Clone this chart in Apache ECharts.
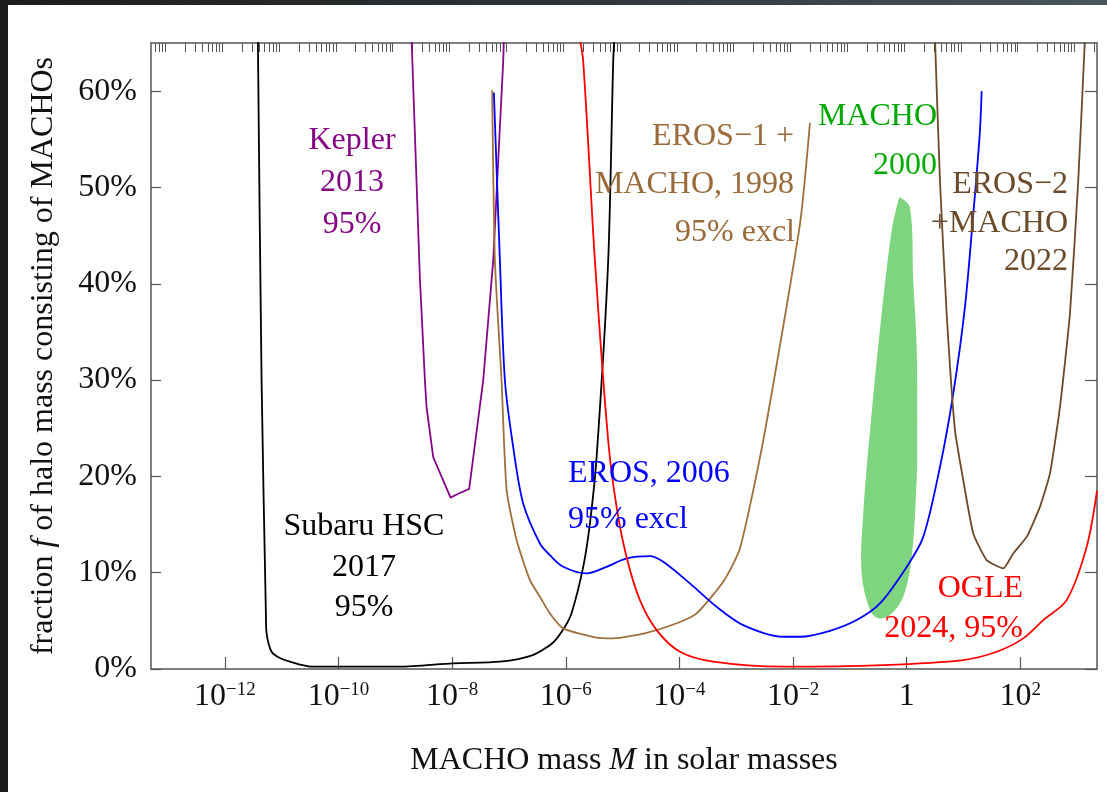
<!DOCTYPE html>
<html>
<head>
<meta charset="utf-8">
<title>MACHO limits</title>
<script src="https://cdn.jsdelivr.net/npm/echarts@6/dist/echarts.min.js"></script>
<style>
  html, body { margin: 0; padding: 0; width: 1107px; height: 792px; overflow: hidden; }
  body { background: linear-gradient(90deg, #1c1c1c 0%, #2e3336 50%, #4a5659 100%); position: relative; }
  #paper { position: absolute; left: 8px; top: 5px; right: 0; bottom: 0; background: #fff; }
  #chart { position: absolute; left: 0; top: 0; width: 1107px; height: 792px; }
</style>
</head>
<body>
<div id="paper"></div>
<div id="chart"></div>
<script>
// x values are log10 of the mass in solar masses, y values are percent
const xMin = -13.3
const xMax = 3.35
const xLabelTicks = [-12, -10, -8, -6, -4, -2, 0, 2]
const yTicks = [0, 10, 20, 30, 40, 50, 60]

const subaruX = [-11.42, -11.354, -11.278, -11.266, -11.178, -11.032, -10.856, -10.504, -9.395, -8.92, -7.987, -7.159, -6.58, -6.226, -6.015, -5.897, -5.693, -5.575, -5.457, -5.253, -5.165, -5.14]
const subaruY = [66, 29.96, 5.81, 3.73, 1.79, 1.14, 0.76, 0.26, 0.24, 0.24, 0.59, 0.76, 1.45, 2.73, 4.39, 5.81, 10.6, 15.1, 22.0, 42.4, 63.1, 66]

const keplerX = [-8.714, -8.567, -8.479, -8.45, -8.333, -8.027, -7.893, -7.7, -7.453, -7.277, -7.101, -7.089]
const keplerY = [65.5, 40.5, 29.96, 27.2, 22.0, 17.8, 18.2, 18.7, 29.96, 42.4, 63.1, 65.5]

const eros1X = [-7.295, -7.247, -7.13, -7.041, -6.865, -6.631, -6.455, -6.279, -6.045, -5.487, -5.165, -4.577, -4.021, -3.697, -3.229, -2.935, -2.525, -1.878, -1.702]
const eros1Y = [60.1, 42.4, 29.96, 18.6, 13.4, 9.23, 7.5, 5.77, 4.22, 3.29, 3.18, 3.76, 4.8, 5.77, 9.05, 12.5, 23.7, 46.2, 56.7]

const erosX = [-7.265, -7.159, -7.071, -6.925, -6.749, -6.455, -6.279, -6.045, -5.633, -5.281, -4.929, -4.519, -4.285, -3.815, -3.345, -2.877, -2.173, -1.878, -1.35, -0.88, -0.47, 0.0, 0.292, 0.586, 0.82, 1.026, 1.172, 1.232, 1.29, 1.32]
const erosY = [59.85, 42.4, 29.96, 23.05, 17.18, 13.03, 11.82, 10.61, 9.92, 10.61, 11.48, 11.72, 11.13, 8.89, 6.46, 4.56, 3.35, 3.35, 3.97, 5.08, 6.81, 10.6, 13.72, 20.97, 28.6, 37.6, 47.2, 51.4, 55.9, 60.0]

const ogleX = [-5.77, -5.693, -5.487, -5.253, -5.105, -4.929, -4.695, -4.401, -3.99, -3.405, -2.173, -0.412, 0.996, 1.584, 2.052, 2.404, 2.816, 3.168, 3.35]
const ogleY = [66, 63.1, 42.4, 23.7, 16.8, 11.6, 7.15, 4.04, 1.79, 0.76, 0.24, 0.41, 0.93, 1.79, 3.18, 5.08, 7.15, 12.68, 18.5]

const eros2X = [0.498, 0.586, 0.704, 0.85, 0.996, 1.172, 1.408, 1.70, 1.876, 2.112, 2.346, 2.522, 2.698, 2.874, 3.02, 3.138]
const eros2Y = [65.5, 50.7, 36.9, 24.8, 19.6, 14.07, 11.3, 10.44, 12.0, 13.72, 16.83, 20.29, 27.2, 36.9, 50.7, 65.5]

// outline of the MACHO 2000 detection region
const machoX = [-0.118, 0.058, 0.116, 0.176, 0.186, 0.176, 0.088, -0.06, -0.294, -0.5, -0.646, -0.792, -0.764, -0.617, -0.44, -0.264, -0.148]
const machoY = [48.97, 47.93, 40.33, 33.42, 23.74, 19.6, 11.64, 7.5, 5.6, 5.26, 6.12, 9.92, 16.14, 26.51, 36.88, 45.52, 48.63]

const FONT = '"Liberation Serif", "DejaVu Serif", serif'
const AXIS_COLOR = '#555'

const zip = (xs, ys) => xs.map((x, i) => [x, ys[i]])

const minorTicks = []
for (let n = -14; n <= 3; n++) {
  for (let k = 2; k <= 9; k++) {
    const v = n + Math.log10(k)
    if (v > xMin && v < xMax) minorTicks.push(v)
  }
}

const lineSeries = (name, xs, ys, color, smooth) => ({
  name,
  type: 'line',
  data: zip(xs, ys),
  showSymbol: false,
  smooth,
  clip: true,
  lineStyle: { color, width: 1.8 },
  itemStyle: { color },
  z: 3
})

const machoPoints = zip(machoX, machoY)

const annotations = [
  { text: 'Kepler', x: 352, y: 141, align: 'center', color: '#860786' },
  { text: '2013', x: 352, y: 183, align: 'center', color: '#860786' },
  { text: '95%', x: 352, y: 225, align: 'center', color: '#860786' },
  { text: 'Subaru HSC', x: 364, y: 527, align: 'center', color: '#000' },
  { text: '2017', x: 364, y: 568, align: 'center', color: '#000' },
  { text: '95%', x: 364, y: 608, align: 'center', color: '#000' },
  { text: 'EROS−1 +', x: 794, y: 137, align: 'right', color: '#9a6a3a' },
  { text: 'MACHO, 1998', x: 794, y: 185, align: 'right', color: '#9a6a3a' },
  { text: '95% excl', x: 795, y: 233, align: 'right', color: '#9a6a3a' },
  { text: 'MACHO', x: 937, y: 117, align: 'right', color: '#00a800' },
  { text: '2000', x: 937, y: 166, align: 'right', color: '#00a800' },
  { text: 'EROS−2', x: 1068, y: 185, align: 'right', color: '#6b4a2a' },
  { text: '+MACHO', x: 1068, y: 224, align: 'right', color: '#6b4a2a' },
  { text: '2022', x: 1068, y: 262, align: 'right', color: '#6b4a2a' },
  { text: 'EROS, 2006', x: 568, y: 474, align: 'left', color: '#0000ff' },
  { text: '95% excl', x: 568, y: 520, align: 'left', color: '#0000ff' },
  { text: 'OGLE', x: 1023, y: 589, align: 'right', color: '#ff0000' },
  { text: '2024, 95%', x: 1023, y: 629, align: 'right', color: '#ff0000' }
]

const myChart = echarts.init(document.getElementById('chart'))

myChart.setOption({
  backgroundColor: 'transparent',
  animation: false,
  textStyle: { fontFamily: FONT },
  grid: { left: 151, right: 10, top: 43, bottom: 123 },
  xAxis: [
    {
      type: 'value',
      min: xMin,
      max: xMax,
      position: 'bottom',
      splitLine: { show: false },
      axisLine: { onZero: false, lineStyle: { color: AXIS_COLOR, width: 1.5 } },
      axisTick: {
        inside: true,
        length: 12,
        customValues: xLabelTicks,
        lineStyle: { color: AXIS_COLOR, width: 1.2 }
      },
      axisLabel: {
        customValues: xLabelTicks,
        margin: 12,
        formatter: (v) => {
          const e = Math.round(v)
          if (e === 0) return '{b|1}'
          return '{b|10}{s|' + (e < 0 ? '−' + -e : e) + '}'
        },
        rich: {
          b: { fontSize: 32, fontFamily: FONT, color: '#111' },
          s: { fontSize: 19, fontFamily: FONT, color: '#111', verticalAlign: 'top' }
        }
      },
      name: 'MACHO mass {i|M} in solar masses',
      nameLocation: 'middle',
      nameGap: 76,
      nameTextStyle: {
        fontSize: 32,
        fontFamily: FONT,
        color: '#111',
        rich: { i: { fontSize: 32, fontFamily: FONT, fontStyle: 'italic', color: '#111' } }
      }
    },
    {
      type: 'value',
      min: xMin,
      max: xMax,
      position: 'top',
      splitLine: { show: false },
      axisLine: { onZero: false, lineStyle: { color: AXIS_COLOR, width: 1.5 } },
      axisTick: {
        inside: true,
        length: 9,
        customValues: minorTicks,
        lineStyle: { color: AXIS_COLOR, width: 1 }
      },
      axisLabel: { show: false }
    }
  ],
  yAxis: [
    {
      type: 'value',
      min: 0,
      max: 65,
      position: 'left',
      splitLine: { show: false },
      axisLine: { show: true, onZero: false, lineStyle: { color: AXIS_COLOR, width: 1.5 } },
      axisTick: { show: true, inside: true, length: 10, customValues: yTicks, lineStyle: { color: AXIS_COLOR, width: 1.2 } },
      axisLabel: {
        customValues: yTicks,
        formatter: '{value}%',
        fontSize: 32,
        fontFamily: FONT,
        color: '#111',
        margin: 14
      },
      name: '{n|fraction }{i|f}{n| of halo mass consisting of MACHOs}',
      nameLocation: 'middle',
      nameGap: 91,
      nameTextStyle: {
        rich: {
          n: { fontSize: 32, fontFamily: FONT, color: '#111' },
          i: { fontSize: 32, fontFamily: FONT, fontStyle: 'italic', color: '#111' }
        }
      }
    },
    {
      type: 'value',
      min: 0,
      max: 65,
      position: 'right',
      splitLine: { show: false },
      axisLine: { show: true, onZero: false, lineStyle: { color: AXIS_COLOR, width: 1.5 } },
      axisTick: { show: true, inside: true, length: 12, customValues: yTicks, lineStyle: { color: AXIS_COLOR, width: 1.2 } },
      axisLabel: { show: false }
    }
  ],
  series: [
    {
      name: 'MACHO 2000',
      type: 'custom',
      data: machoPoints,
      z: 1,
      renderItem: (params, api) => {
        if (params.dataIndex !== 0) return null
        const pts = machoPoints.map((p) => api.coord(p))
        return {
          type: 'polygon',
          shape: { points: pts, smooth: 0.35 },
          style: { fill: '#7fd47f', stroke: null }
        }
      }
    },
    lineSeries('Subaru HSC 2017', subaruX, subaruY, '#000000', 0.25),
    lineSeries('Kepler 2013', keplerX, keplerY, '#860786', false),
    lineSeries('EROS-1 + MACHO 1998', eros1X, eros1Y, '#a0703c', 0.2),
    lineSeries('EROS 2006', erosX, erosY, '#0000ff', 0.3),
    lineSeries('OGLE 2024', ogleX, ogleY, '#ff0000', 0.3),
    lineSeries('EROS-2 + MACHO 2022', eros2X, eros2Y, '#6b4a2a', 0.15)
  ],
  graphic: annotations.map((a) => ({
    type: 'text',
    x: a.x,
    y: a.y,
    z: 10,
    style: {
      text: a.text,
      fill: a.color,
      font: '32px ' + FONT,
      align: a.align,
      verticalAlign: 'middle'
    }
  }))
})
</script>
</body>
</html>
